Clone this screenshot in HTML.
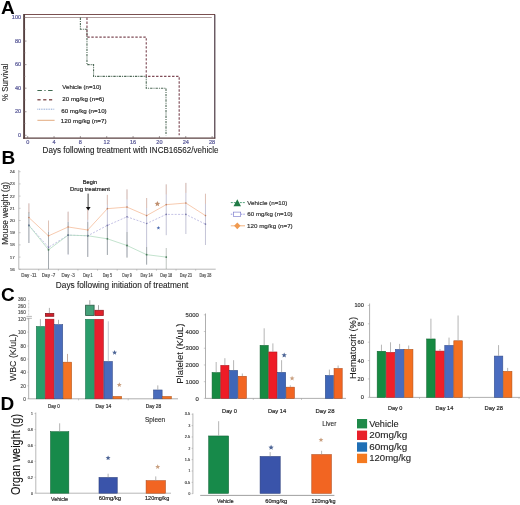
<!DOCTYPE html>
<html><head><meta charset="utf-8"><style>
html,body{margin:0;padding:0;background:#fff;}
body{width:520px;height:505px;overflow:hidden;}
svg{display:block;font-family:"Liberation Sans", sans-serif;filter:blur(0.3px);}
</style></head><body>
<svg width="520" height="505" viewBox="0 0 520 505">
<text x="1.00" y="13.60" font-size="19" fill="#000" text-anchor="start" font-weight="bold" >A</text>
<line x1="24.00" y1="14.50" x2="215.00" y2="14.50" stroke="#7a5050" stroke-width="1" />
<line x1="214.80" y1="14.50" x2="214.80" y2="138.50" stroke="#3a2530" stroke-width="1.1" />
<line x1="24.10" y1="14.00" x2="24.10" y2="138.80" stroke="#554040" stroke-width="1.9" />
<line x1="23.20" y1="138.20" x2="215.30" y2="138.20" stroke="#5a4040" stroke-width="1.3" />
<line x1="24.00" y1="135.30" x2="26.50" y2="135.30" stroke="#6a5a5a" stroke-width="0.6" />
<text x="21.10" y="136.90" font-size="4.6" fill="#5a5a98" text-anchor="end" stroke="#5a5a98" stroke-width="0.18" textLength="3.1" lengthAdjust="spacingAndGlyphs" >0</text>
<line x1="24.00" y1="111.74" x2="26.50" y2="111.74" stroke="#6a5a5a" stroke-width="0.6" />
<text x="21.10" y="113.34" font-size="4.6" fill="#5a5a98" text-anchor="end" stroke="#5a5a98" stroke-width="0.18" textLength="6.2" lengthAdjust="spacingAndGlyphs" >20</text>
<line x1="24.00" y1="88.18" x2="26.50" y2="88.18" stroke="#6a5a5a" stroke-width="0.6" />
<text x="21.10" y="89.78" font-size="4.6" fill="#5a5a98" text-anchor="end" stroke="#5a5a98" stroke-width="0.18" textLength="6.2" lengthAdjust="spacingAndGlyphs" >40</text>
<line x1="24.00" y1="64.62" x2="26.50" y2="64.62" stroke="#6a5a5a" stroke-width="0.6" />
<text x="21.10" y="66.22" font-size="4.6" fill="#5a5a98" text-anchor="end" stroke="#5a5a98" stroke-width="0.18" textLength="6.2" lengthAdjust="spacingAndGlyphs" >60</text>
<line x1="24.00" y1="41.06" x2="26.50" y2="41.06" stroke="#6a5a5a" stroke-width="0.6" />
<text x="21.10" y="42.66" font-size="4.6" fill="#5a5a98" text-anchor="end" stroke="#5a5a98" stroke-width="0.18" textLength="6.2" lengthAdjust="spacingAndGlyphs" >80</text>
<line x1="24.00" y1="17.50" x2="26.50" y2="17.50" stroke="#6a5a5a" stroke-width="0.6" />
<text x="21.10" y="19.10" font-size="4.6" fill="#5a5a98" text-anchor="end" stroke="#5a5a98" stroke-width="0.18" textLength="9.3" lengthAdjust="spacingAndGlyphs" >100</text>
<line x1="24.00" y1="123.52" x2="25.60" y2="123.52" stroke="#8a7a7a" stroke-width="0.5" />
<line x1="24.00" y1="99.96" x2="25.60" y2="99.96" stroke="#8a7a7a" stroke-width="0.5" />
<line x1="24.00" y1="76.40" x2="25.60" y2="76.40" stroke="#8a7a7a" stroke-width="0.5" />
<line x1="24.00" y1="52.84" x2="25.60" y2="52.84" stroke="#8a7a7a" stroke-width="0.5" />
<line x1="24.00" y1="29.28" x2="25.60" y2="29.28" stroke="#8a7a7a" stroke-width="0.5" />
<line x1="27.70" y1="138.00" x2="27.70" y2="136.00" stroke="#6a5a5a" stroke-width="0.6" />
<text x="27.70" y="144.20" font-size="4.6" fill="#5a5a98" text-anchor="middle" stroke="#5a5a98" stroke-width="0.18" textLength="3.1" lengthAdjust="spacingAndGlyphs" >0</text>
<line x1="54.04" y1="138.00" x2="54.04" y2="136.00" stroke="#6a5a5a" stroke-width="0.6" />
<text x="54.04" y="144.20" font-size="4.6" fill="#5a5a98" text-anchor="middle" stroke="#5a5a98" stroke-width="0.18" textLength="3.1" lengthAdjust="spacingAndGlyphs" >4</text>
<line x1="80.39" y1="138.00" x2="80.39" y2="136.00" stroke="#6a5a5a" stroke-width="0.6" />
<text x="80.39" y="144.20" font-size="4.6" fill="#5a5a98" text-anchor="middle" stroke="#5a5a98" stroke-width="0.18" textLength="3.1" lengthAdjust="spacingAndGlyphs" >8</text>
<line x1="106.73" y1="138.00" x2="106.73" y2="136.00" stroke="#6a5a5a" stroke-width="0.6" />
<text x="106.73" y="144.20" font-size="4.6" fill="#5a5a98" text-anchor="middle" stroke="#5a5a98" stroke-width="0.18" textLength="6.2" lengthAdjust="spacingAndGlyphs" >12</text>
<line x1="133.08" y1="138.00" x2="133.08" y2="136.00" stroke="#6a5a5a" stroke-width="0.6" />
<text x="133.08" y="144.20" font-size="4.6" fill="#5a5a98" text-anchor="middle" stroke="#5a5a98" stroke-width="0.18" textLength="6.2" lengthAdjust="spacingAndGlyphs" >16</text>
<line x1="159.42" y1="138.00" x2="159.42" y2="136.00" stroke="#6a5a5a" stroke-width="0.6" />
<text x="159.42" y="144.20" font-size="4.6" fill="#5a5a98" text-anchor="middle" stroke="#5a5a98" stroke-width="0.18" textLength="6.2" lengthAdjust="spacingAndGlyphs" >20</text>
<line x1="185.76" y1="138.00" x2="185.76" y2="136.00" stroke="#6a5a5a" stroke-width="0.6" />
<text x="185.76" y="144.20" font-size="4.6" fill="#5a5a98" text-anchor="middle" stroke="#5a5a98" stroke-width="0.18" textLength="6.2" lengthAdjust="spacingAndGlyphs" >24</text>
<line x1="212.11" y1="138.00" x2="212.11" y2="136.00" stroke="#6a5a5a" stroke-width="0.6" />
<text x="212.11" y="144.20" font-size="4.6" fill="#5a5a98" text-anchor="middle" stroke="#5a5a98" stroke-width="0.18" textLength="6.2" lengthAdjust="spacingAndGlyphs" >28</text>
<line x1="25.00" y1="17.50" x2="211.80" y2="17.50" stroke="#a89494" stroke-width="0.9" />
<polyline points="80.39,17.50 80.39,29.28 86.97,29.28 86.97,64.62 93.56,64.62 93.56,76.40 146.25,76.40 146.25,88.18 166.01,88.18 166.01,135.30" fill="none" stroke="#4f6a58" stroke-width="1.1" stroke-dasharray="2.4,1,1,1"/>
<polyline points="86.97,17.50 86.97,37.14 146.25,37.14 146.25,76.40 179.18,76.40 179.18,135.30" fill="none" stroke="#7e4a55" stroke-width="1.15" stroke-dasharray="2.4,1.6"/>
<line x1="37.40" y1="90.50" x2="54.60" y2="90.50" stroke="#3f6a50" stroke-width="1.0" stroke-dasharray="4.5,2.5,1.2,2.5" />
<text x="62.30" y="89.30" font-size="6.2" fill="#2a2a2a" text-anchor="start" stroke="#2a2a2a" stroke-width="0.18" textLength="39.0" lengthAdjust="spacingAndGlyphs" >Vehicle (n=10)</text>
<line x1="37.40" y1="99.70" x2="54.60" y2="99.70" stroke="#8a5a5a" stroke-width="1.4" stroke-dasharray="3.2,2.6" />
<text x="62.30" y="101.10" font-size="6.2" fill="#2a2a2a" text-anchor="start" stroke="#2a2a2a" stroke-width="0.18" textLength="42.0" lengthAdjust="spacingAndGlyphs" >20 mg/kg (n=6)</text>
<line x1="37.40" y1="109.20" x2="54.60" y2="109.20" stroke="#5a80c0" stroke-width="0.8" stroke-dasharray="0.9,0.8" />
<text x="61.20" y="112.90" font-size="6.2" fill="#2a2a2a" text-anchor="start" stroke="#2a2a2a" stroke-width="0.18" textLength="45.5" lengthAdjust="spacingAndGlyphs" >60 mg/kg (n=10)</text>
<line x1="37.40" y1="120.30" x2="54.60" y2="120.30" stroke="#e0a070" stroke-width="0.9" />
<text x="60.80" y="122.80" font-size="6.2" fill="#2a2a2a" text-anchor="start" stroke="#2a2a2a" stroke-width="0.18" textLength="45.8" lengthAdjust="spacingAndGlyphs" >120 mg/kg (n=7)</text>
<text x="42.60" y="153.00" font-size="8.4" fill="#222" text-anchor="start" stroke="#222" stroke-width="0.1" textLength="176.0" lengthAdjust="spacingAndGlyphs" >Days following treatment with INCB16562/vehicle</text>
<text x="7.60" y="82.30" font-size="8.2" fill="#222" text-anchor="middle" stroke="#222" stroke-width="0.1" textLength="37.4" lengthAdjust="spacingAndGlyphs" transform="rotate(-90 7.60 82.30)" >% Survival</text>
<text x="1.50" y="164.00" font-size="19" fill="#000" text-anchor="start" font-weight="bold" >B</text>
<line x1="18.80" y1="170.00" x2="18.80" y2="269.30" stroke="#999" stroke-width="0.7" />
<line x1="18.80" y1="269.20" x2="215.70" y2="269.20" stroke="#999" stroke-width="0.7" />
<line x1="18.80" y1="269.30" x2="20.60" y2="269.30" stroke="#999" stroke-width="0.5" />
<text x="14.80" y="270.80" font-size="4.4" fill="#555" text-anchor="end" stroke="#555" stroke-width="0.18" textLength="5.0" lengthAdjust="spacingAndGlyphs" >16</text>
<line x1="18.80" y1="257.10" x2="20.60" y2="257.10" stroke="#999" stroke-width="0.5" />
<text x="14.80" y="258.60" font-size="4.4" fill="#555" text-anchor="end" stroke="#555" stroke-width="0.18" textLength="5.0" lengthAdjust="spacingAndGlyphs" >17</text>
<line x1="18.80" y1="244.90" x2="20.60" y2="244.90" stroke="#999" stroke-width="0.5" />
<text x="14.80" y="246.40" font-size="4.4" fill="#555" text-anchor="end" stroke="#555" stroke-width="0.18" textLength="5.0" lengthAdjust="spacingAndGlyphs" >18</text>
<line x1="18.80" y1="232.70" x2="20.60" y2="232.70" stroke="#999" stroke-width="0.5" />
<text x="14.80" y="234.20" font-size="4.4" fill="#555" text-anchor="end" stroke="#555" stroke-width="0.18" textLength="5.0" lengthAdjust="spacingAndGlyphs" >19</text>
<line x1="18.80" y1="220.50" x2="20.60" y2="220.50" stroke="#999" stroke-width="0.5" />
<text x="14.80" y="222.00" font-size="4.4" fill="#555" text-anchor="end" stroke="#555" stroke-width="0.18" textLength="5.0" lengthAdjust="spacingAndGlyphs" >20</text>
<line x1="18.80" y1="208.30" x2="20.60" y2="208.30" stroke="#999" stroke-width="0.5" />
<text x="14.80" y="209.80" font-size="4.4" fill="#555" text-anchor="end" stroke="#555" stroke-width="0.18" textLength="5.0" lengthAdjust="spacingAndGlyphs" >21</text>
<line x1="18.80" y1="196.10" x2="20.60" y2="196.10" stroke="#999" stroke-width="0.5" />
<text x="14.80" y="197.60" font-size="4.4" fill="#555" text-anchor="end" stroke="#555" stroke-width="0.18" textLength="5.0" lengthAdjust="spacingAndGlyphs" >22</text>
<line x1="18.80" y1="183.90" x2="20.60" y2="183.90" stroke="#999" stroke-width="0.5" />
<text x="14.80" y="185.40" font-size="4.4" fill="#555" text-anchor="end" stroke="#555" stroke-width="0.18" textLength="5.0" lengthAdjust="spacingAndGlyphs" >23</text>
<line x1="18.80" y1="171.70" x2="20.60" y2="171.70" stroke="#999" stroke-width="0.5" />
<text x="14.80" y="173.20" font-size="4.4" fill="#555" text-anchor="end" stroke="#555" stroke-width="0.18" textLength="5.0" lengthAdjust="spacingAndGlyphs" >24</text>
<line x1="38.71" y1="269.20" x2="38.71" y2="270.80" stroke="#999" stroke-width="0.5" />
<text x="28.90" y="276.50" font-size="4.6" fill="#555" text-anchor="middle" stroke="#555" stroke-width="0.18" textLength="15.3" lengthAdjust="spacingAndGlyphs" >Day -11</text>
<line x1="58.33" y1="269.20" x2="58.33" y2="270.80" stroke="#999" stroke-width="0.5" />
<text x="48.52" y="276.50" font-size="4.6" fill="#555" text-anchor="middle" stroke="#555" stroke-width="0.18" textLength="13.3" lengthAdjust="spacingAndGlyphs" >Day -7</text>
<line x1="77.95" y1="269.20" x2="77.95" y2="270.80" stroke="#999" stroke-width="0.5" />
<text x="68.14" y="276.50" font-size="4.6" fill="#555" text-anchor="middle" stroke="#555" stroke-width="0.18" textLength="13.4" lengthAdjust="spacingAndGlyphs" >Day -3</text>
<line x1="97.57" y1="269.20" x2="97.57" y2="270.80" stroke="#999" stroke-width="0.5" />
<text x="87.76" y="276.50" font-size="4.6" fill="#555" text-anchor="middle" stroke="#555" stroke-width="0.18" textLength="9.7" lengthAdjust="spacingAndGlyphs" >Day 1</text>
<line x1="117.19" y1="269.20" x2="117.19" y2="270.80" stroke="#999" stroke-width="0.5" />
<text x="107.38" y="276.50" font-size="4.6" fill="#555" text-anchor="middle" stroke="#555" stroke-width="0.18" textLength="9.4" lengthAdjust="spacingAndGlyphs" >Day 5</text>
<line x1="136.81" y1="269.20" x2="136.81" y2="270.80" stroke="#999" stroke-width="0.5" />
<text x="127.00" y="276.50" font-size="4.6" fill="#555" text-anchor="middle" stroke="#555" stroke-width="0.18" textLength="9.4" lengthAdjust="spacingAndGlyphs" >Day 9</text>
<line x1="156.43" y1="269.20" x2="156.43" y2="270.80" stroke="#999" stroke-width="0.5" />
<text x="146.62" y="276.50" font-size="4.6" fill="#555" text-anchor="middle" stroke="#555" stroke-width="0.18" textLength="12.0" lengthAdjust="spacingAndGlyphs" >Day 14</text>
<line x1="176.05" y1="269.20" x2="176.05" y2="270.80" stroke="#999" stroke-width="0.5" />
<text x="166.24" y="276.50" font-size="4.6" fill="#555" text-anchor="middle" stroke="#555" stroke-width="0.18" textLength="12.0" lengthAdjust="spacingAndGlyphs" >Day 18</text>
<line x1="195.67" y1="269.20" x2="195.67" y2="270.80" stroke="#999" stroke-width="0.5" />
<text x="185.86" y="276.50" font-size="4.6" fill="#555" text-anchor="middle" stroke="#555" stroke-width="0.18" textLength="12.0" lengthAdjust="spacingAndGlyphs" >Day 23</text>
<text x="205.48" y="276.50" font-size="4.6" fill="#555" text-anchor="middle" stroke="#555" stroke-width="0.18" textLength="12.0" lengthAdjust="spacingAndGlyphs" >Day 28</text>
<line x1="28.90" y1="203.40" x2="28.90" y2="243.00" stroke="#9c9cbc" stroke-width="0.6" />
<line x1="48.52" y1="220.60" x2="48.52" y2="269.00" stroke="#9c9cbc" stroke-width="0.6" />
<line x1="68.14" y1="211.70" x2="68.14" y2="254.90" stroke="#9c9cbc" stroke-width="0.6" />
<line x1="87.76" y1="209.70" x2="87.76" y2="256.80" stroke="#9c9cbc" stroke-width="0.6" />
<line x1="107.38" y1="194.90" x2="107.38" y2="254.90" stroke="#9c9cbc" stroke-width="0.6" />
<line x1="127.00" y1="189.40" x2="127.00" y2="257.00" stroke="#9c9cbc" stroke-width="0.6" />
<line x1="146.62" y1="198.00" x2="146.62" y2="264.60" stroke="#9c9cbc" stroke-width="0.6" />
<line x1="166.24" y1="184.40" x2="166.24" y2="235.20" stroke="#9c9cbc" stroke-width="0.6" />
<line x1="185.86" y1="182.90" x2="185.86" y2="234.00" stroke="#9c9cbc" stroke-width="0.6" />
<line x1="205.48" y1="193.80" x2="205.48" y2="245.00" stroke="#9c9cbc" stroke-width="0.6" />
<line x1="28.90" y1="203.40" x2="28.90" y2="213.40" stroke="#f0c0a0" stroke-width="0.6" />
<line x1="48.52" y1="220.60" x2="48.52" y2="230.60" stroke="#f0c0a0" stroke-width="0.6" />
<line x1="68.14" y1="211.70" x2="68.14" y2="221.70" stroke="#f0c0a0" stroke-width="0.6" />
<line x1="87.76" y1="209.70" x2="87.76" y2="219.70" stroke="#f0c0a0" stroke-width="0.6" />
<line x1="107.38" y1="194.90" x2="107.38" y2="204.90" stroke="#f0c0a0" stroke-width="0.6" />
<line x1="127.00" y1="189.40" x2="127.00" y2="199.40" stroke="#f0c0a0" stroke-width="0.6" />
<line x1="146.62" y1="198.00" x2="146.62" y2="208.00" stroke="#f0c0a0" stroke-width="0.6" />
<line x1="166.24" y1="184.40" x2="166.24" y2="194.40" stroke="#f0c0a0" stroke-width="0.6" />
<line x1="185.86" y1="182.90" x2="185.86" y2="192.90" stroke="#f0c0a0" stroke-width="0.6" />
<line x1="205.48" y1="193.80" x2="205.48" y2="203.80" stroke="#f0c0a0" stroke-width="0.6" />
<line x1="28.90" y1="212.00" x2="28.90" y2="243.00" stroke="#8a948e" stroke-width="0.55" />
<line x1="48.52" y1="232.00" x2="48.52" y2="269.00" stroke="#8a948e" stroke-width="0.55" />
<line x1="68.14" y1="222.00" x2="68.14" y2="254.00" stroke="#8a948e" stroke-width="0.55" />
<line x1="87.76" y1="222.00" x2="87.76" y2="257.00" stroke="#8a948e" stroke-width="0.55" />
<line x1="107.38" y1="225.00" x2="107.38" y2="255.00" stroke="#8a948e" stroke-width="0.55" />
<line x1="127.00" y1="232.00" x2="127.00" y2="258.00" stroke="#8a948e" stroke-width="0.55" />
<line x1="146.62" y1="247.00" x2="146.62" y2="264.60" stroke="#8a948e" stroke-width="0.55" />
<line x1="166.24" y1="248.00" x2="166.24" y2="269.00" stroke="#8a948e" stroke-width="0.55" />
<polyline points="28.90,217.57 48.52,235.87 68.14,226.97 87.76,230.02 107.38,208.67 127.00,207.08 146.62,215.62 166.24,204.64 185.86,203.05 205.48,215.62" fill="none" stroke="#f6c4a6" stroke-width="0.9"/>
<polyline points="28.90,225.38 48.52,247.34 68.14,235.14 87.76,235.75 107.38,225.38 127.00,216.84 146.62,223.55 166.24,214.40 185.86,214.40 205.48,224.16" fill="none" stroke="#b0aedc" stroke-width="0.75" stroke-dasharray="2,1.4"/>
<polyline points="28.90,225.38 48.52,249.78 68.14,235.14 87.76,235.75 107.38,238.80 127.00,245.51 146.62,254.66 166.24,257.10" fill="none" stroke="#b4dcc2" stroke-width="0.8"/>
<circle cx="28.90" cy="225.38" r="0.9" fill="#4a7a5a"/>
<circle cx="48.52" cy="249.78" r="0.9" fill="#4a7a5a"/>
<circle cx="68.14" cy="235.14" r="0.9" fill="#4a7a5a"/>
<circle cx="87.76" cy="235.75" r="0.9" fill="#4a7a5a"/>
<circle cx="107.38" cy="238.80" r="0.9" fill="#4a7a5a"/>
<circle cx="127.00" cy="245.51" r="0.9" fill="#4a7a5a"/>
<circle cx="146.62" cy="254.66" r="0.9" fill="#4a7a5a"/>
<circle cx="166.24" cy="257.10" r="0.9" fill="#4a7a5a"/>
<circle cx="28.90" cy="225.38" r="0.8" fill="#7a7aaa"/>
<circle cx="48.52" cy="247.34" r="0.8" fill="#7a7aaa"/>
<circle cx="68.14" cy="235.14" r="0.8" fill="#7a7aaa"/>
<circle cx="87.76" cy="235.75" r="0.8" fill="#7a7aaa"/>
<circle cx="107.38" cy="225.38" r="0.8" fill="#7a7aaa"/>
<circle cx="127.00" cy="216.84" r="0.8" fill="#7a7aaa"/>
<circle cx="146.62" cy="223.55" r="0.8" fill="#7a7aaa"/>
<circle cx="166.24" cy="214.40" r="0.8" fill="#7a7aaa"/>
<circle cx="185.86" cy="214.40" r="0.8" fill="#7a7aaa"/>
<circle cx="205.48" cy="224.16" r="0.8" fill="#7a7aaa"/>
<circle cx="28.90" cy="217.57" r="0.8" fill="#c08060"/>
<circle cx="48.52" cy="235.87" r="0.8" fill="#c08060"/>
<circle cx="68.14" cy="226.97" r="0.8" fill="#c08060"/>
<circle cx="87.76" cy="230.02" r="0.8" fill="#c08060"/>
<circle cx="107.38" cy="208.67" r="0.8" fill="#c08060"/>
<circle cx="127.00" cy="207.08" r="0.8" fill="#c08060"/>
<circle cx="146.62" cy="215.62" r="0.8" fill="#c08060"/>
<circle cx="166.24" cy="204.64" r="0.8" fill="#c08060"/>
<circle cx="185.86" cy="203.05" r="0.8" fill="#c08060"/>
<circle cx="205.48" cy="215.62" r="0.8" fill="#c08060"/>
<polygon points="157.40,200.90 158.19,202.81 160.25,202.97 158.68,204.32 159.16,206.33 157.40,205.25 155.64,206.33 156.12,204.32 154.55,202.97 156.61,202.81" fill="#c09070"/>
<polygon points="158.40,226.10 158.90,227.31 160.21,227.41 159.21,228.26 159.52,229.54 158.40,228.85 157.28,229.54 157.59,228.26 156.59,227.41 157.90,227.31" fill="#4a6ab0"/>
<text x="90.00" y="184.10" font-size="5.6" fill="#222" text-anchor="middle" stroke="#222" stroke-width="0.18" textLength="14.4" lengthAdjust="spacingAndGlyphs" >Begin</text>
<text x="90.00" y="191.30" font-size="5.6" fill="#222" text-anchor="middle" stroke="#222" stroke-width="0.18" textLength="40.0" lengthAdjust="spacingAndGlyphs" >Drug treatment</text>
<line x1="88.10" y1="193.60" x2="88.10" y2="208.00" stroke="#111" stroke-width="0.8" />
<polygon points="85.9,207.0 90.6,207.0 88.2,210.6" fill="#111"/>
<text x="55.80" y="287.90" font-size="8.4" fill="#222" text-anchor="start" stroke="#222" stroke-width="0.1" textLength="132.5" lengthAdjust="spacingAndGlyphs" >Days following initiation of treatment</text>
<text x="7.90" y="213.40" font-size="8.4" fill="#222" text-anchor="middle" stroke="#222" stroke-width="0.1" textLength="62.6" lengthAdjust="spacingAndGlyphs" transform="rotate(-90 7.90 213.40)" >Mouse weight (g)</text>
<line x1="230.80" y1="202.60" x2="245.00" y2="202.60" stroke="#2a8a5a" stroke-width="0.8" stroke-dasharray="2,1" />
<polygon points="237.3,199.3 233.5,206.2 241.0,206.2" fill="#1f7a45"/>
<text x="247.30" y="204.80" font-size="6.2" fill="#333" text-anchor="start" stroke="#333" stroke-width="0.18" textLength="40.0" lengthAdjust="spacingAndGlyphs" >Vehicle (n=10)</text>
<line x1="230.80" y1="214.20" x2="245.00" y2="214.20" stroke="#6a6ad0" stroke-width="0.7" stroke-dasharray="1.5,1" />
<rect x="233.60" y="212.10" width="7.10" height="4.20" fill="#fff" stroke="#7070c8" stroke-width="0.6"/>
<text x="247.30" y="215.60" font-size="6.2" fill="#333" text-anchor="start" stroke="#333" stroke-width="0.18" textLength="45.4" lengthAdjust="spacingAndGlyphs" >60 mg/kg (n=10)</text>
<line x1="230.80" y1="225.80" x2="245.00" y2="225.80" stroke="#f0a060" stroke-width="0.8" />
<polygon points="237.3,222.4 240.5,225.8 237.3,229.2 234.1,225.8" fill="#f09a50"/>
<text x="247.00" y="228.40" font-size="6.2" fill="#333" text-anchor="start" stroke="#333" stroke-width="0.18" textLength="45.7" lengthAdjust="spacingAndGlyphs" >120 mg/kg (n=7)</text>
<text x="1.00" y="300.60" font-size="19" fill="#000" text-anchor="start" font-weight="bold" >C</text>
<line x1="28.70" y1="300.20" x2="28.70" y2="315.80" stroke="#aaa" stroke-width="0.7" stroke-dasharray="0.8,0.6" />
<line x1="28.70" y1="318.20" x2="28.70" y2="399.00" stroke="#9a9a9a" stroke-width="0.8" />
<line x1="28.50" y1="398.80" x2="178.00" y2="398.80" stroke="#9a9a9a" stroke-width="0.8" />
<line x1="26.50" y1="316.40" x2="31.90" y2="316.40" stroke="#888" stroke-width="0.6" />
<line x1="26.50" y1="318.30" x2="31.90" y2="318.30" stroke="#888" stroke-width="0.6" />
<text x="25.80" y="300.70" font-size="4.9" fill="#555" text-anchor="end" stroke="#555" stroke-width="0.18" textLength="7.8" lengthAdjust="spacingAndGlyphs" >360</text>
<text x="25.80" y="307.70" font-size="4.9" fill="#555" text-anchor="end" stroke="#555" stroke-width="0.18" textLength="7.8" lengthAdjust="spacingAndGlyphs" >260</text>
<text x="25.80" y="314.20" font-size="4.9" fill="#555" text-anchor="end" stroke="#555" stroke-width="0.18" textLength="7.8" lengthAdjust="spacingAndGlyphs" >160</text>
<line x1="27.30" y1="319.00" x2="28.70" y2="319.00" stroke="#9a9a9a" stroke-width="0.5" />
<text x="25.80" y="320.70" font-size="4.9" fill="#555" text-anchor="end" stroke="#555" stroke-width="0.18" textLength="7.8" lengthAdjust="spacingAndGlyphs" >120</text>
<line x1="27.30" y1="332.10" x2="28.70" y2="332.10" stroke="#9a9a9a" stroke-width="0.5" />
<text x="25.80" y="333.80" font-size="4.9" fill="#555" text-anchor="end" stroke="#555" stroke-width="0.18" textLength="7.8" lengthAdjust="spacingAndGlyphs" >100</text>
<line x1="27.30" y1="346.00" x2="28.70" y2="346.00" stroke="#9a9a9a" stroke-width="0.5" />
<text x="25.80" y="347.70" font-size="4.9" fill="#555" text-anchor="end" stroke="#555" stroke-width="0.18" textLength="5.2" lengthAdjust="spacingAndGlyphs" >80</text>
<line x1="27.30" y1="359.10" x2="28.70" y2="359.10" stroke="#9a9a9a" stroke-width="0.5" />
<text x="25.80" y="360.80" font-size="4.9" fill="#555" text-anchor="end" stroke="#555" stroke-width="0.18" textLength="5.2" lengthAdjust="spacingAndGlyphs" >60</text>
<line x1="27.30" y1="372.20" x2="28.70" y2="372.20" stroke="#9a9a9a" stroke-width="0.5" />
<text x="25.80" y="373.90" font-size="4.9" fill="#555" text-anchor="end" stroke="#555" stroke-width="0.18" textLength="5.2" lengthAdjust="spacingAndGlyphs" >40</text>
<line x1="27.30" y1="385.80" x2="28.70" y2="385.80" stroke="#9a9a9a" stroke-width="0.5" />
<text x="25.80" y="387.50" font-size="4.9" fill="#555" text-anchor="end" stroke="#555" stroke-width="0.18" textLength="5.2" lengthAdjust="spacingAndGlyphs" >20</text>
<line x1="27.30" y1="398.80" x2="28.70" y2="398.80" stroke="#9a9a9a" stroke-width="0.5" />
<text x="25.80" y="400.50" font-size="4.9" fill="#555" text-anchor="end" stroke="#555" stroke-width="0.18" textLength="2.6" lengthAdjust="spacingAndGlyphs" >0</text>
<line x1="78.60" y1="398.80" x2="78.60" y2="400.40" stroke="#9a9a9a" stroke-width="0.5" />
<line x1="128.20" y1="398.80" x2="128.20" y2="400.40" stroke="#9a9a9a" stroke-width="0.5" />
<text x="15.80" y="357.60" font-size="9.4" fill="#222" text-anchor="middle" stroke="#222" stroke-width="0.1" textLength="47.0" lengthAdjust="spacingAndGlyphs" transform="rotate(-90 15.80 357.60)" >WBC (K/uL)</text>
<rect x="36.27" y="326.47" width="8.45" height="72.33" fill="#2a9d6b" stroke="#1e714d" stroke-width="0.55"/>
<rect x="45.27" y="319.17" width="8.65" height="79.63" fill="#e8202e" stroke="#a71721" stroke-width="0.55"/>
<rect x="45.4" y="313.5" width="8.4" height="2.8" fill="#d0202c" stroke="#8a1a22" stroke-width="0.8"/>
<rect x="54.48" y="324.57" width="8.25" height="74.22" fill="#4a6cbc" stroke="#354d87" stroke-width="0.55"/>
<rect x="63.27" y="362.17" width="8.35" height="36.63" fill="#f47424" stroke="#af5319" stroke-width="0.55"/>
<line x1="40.40" y1="319.10" x2="40.40" y2="326.20" stroke="#9a9a9a" stroke-width="0.75" />
<line x1="49.40" y1="307.90" x2="49.40" y2="313.10" stroke="#9a9a9a" stroke-width="0.75" />
<line x1="58.50" y1="319.80" x2="58.50" y2="324.30" stroke="#9a9a9a" stroke-width="0.75" />
<line x1="67.50" y1="353.90" x2="67.50" y2="361.90" stroke="#b09080" stroke-width="0.75" />
<rect x="85.48" y="319.27" width="8.75" height="79.53" fill="#2a9d6b" stroke="#1e714d" stroke-width="0.55"/>
<rect x="85.6" y="305.2" width="8.5" height="10.3" fill="#44a078" stroke="#2a5a45" stroke-width="0.8"/>
<rect x="94.78" y="319.27" width="8.65" height="79.53" fill="#e8202e" stroke="#a71721" stroke-width="0.55"/>
<rect x="94.9" y="310.3" width="8.4" height="5.2" fill="#e0222c" stroke="#9a1a22" stroke-width="0.8"/>
<rect x="103.98" y="361.47" width="8.45" height="37.33" fill="#4a6cbc" stroke="#354d87" stroke-width="0.55"/>
<rect x="112.98" y="396.47" width="8.65" height="2.33" fill="#f47424" stroke="#af5319" stroke-width="0.55"/>
<line x1="89.80" y1="300.20" x2="89.80" y2="304.80" stroke="#888" stroke-width="0.75" />
<line x1="98.50" y1="305.20" x2="98.50" y2="309.90" stroke="#888" stroke-width="0.75" />
<line x1="108.30" y1="321.30" x2="108.30" y2="361.20" stroke="#b0b4c0" stroke-width="0.75" />
<rect x="153.47" y="389.97" width="8.65" height="8.83" fill="#4a6cbc" stroke="#354d87" stroke-width="0.55"/>
<rect x="162.68" y="396.47" width="8.65" height="2.33" fill="#f47424" stroke="#af5319" stroke-width="0.55"/>
<line x1="157.80" y1="385.40" x2="157.80" y2="389.70" stroke="#9a9a9a" stroke-width="0.75" />
<polygon points="114.60,350.00 115.29,351.65 117.07,351.80 115.71,352.96 116.13,354.70 114.60,353.77 113.07,354.70 113.49,352.96 112.13,351.80 113.91,351.65" fill="#4d6596"/>
<polygon points="119.30,382.30 119.99,383.95 121.77,384.10 120.41,385.26 120.83,387.00 119.30,386.07 117.77,387.00 118.19,385.26 116.83,384.10 118.61,383.95" fill="#c9a080"/>
<text x="53.90" y="407.50" font-size="4.6" fill="#333" text-anchor="middle" stroke="#333" stroke-width="0.18" textLength="12.0" lengthAdjust="spacingAndGlyphs" >Day 0</text>
<text x="103.40" y="407.50" font-size="4.6" fill="#333" text-anchor="middle" stroke="#333" stroke-width="0.18" textLength="15.8" lengthAdjust="spacingAndGlyphs" >Day 14</text>
<text x="153.50" y="407.50" font-size="4.6" fill="#333" text-anchor="middle" stroke="#333" stroke-width="0.18" textLength="15.5" lengthAdjust="spacingAndGlyphs" >Day 28</text>
<line x1="205.50" y1="313.50" x2="205.50" y2="398.50" stroke="#9a9a9a" stroke-width="0.8" />
<line x1="205.50" y1="398.40" x2="346.00" y2="398.40" stroke="#9a9a9a" stroke-width="0.8" />
<line x1="203.80" y1="398.40" x2="205.50" y2="398.40" stroke="#9a9a9a" stroke-width="0.5" />
<text x="198.80" y="400.50" font-size="6.0" fill="#333" text-anchor="end" stroke="#333" stroke-width="0.18" textLength="3.3" lengthAdjust="spacingAndGlyphs" >0</text>
<line x1="203.80" y1="381.68" x2="205.50" y2="381.68" stroke="#9a9a9a" stroke-width="0.5" />
<text x="198.80" y="383.78" font-size="6.0" fill="#333" text-anchor="end" stroke="#333" stroke-width="0.18" textLength="13.2" lengthAdjust="spacingAndGlyphs" >1000</text>
<line x1="203.80" y1="364.96" x2="205.50" y2="364.96" stroke="#9a9a9a" stroke-width="0.5" />
<text x="198.80" y="367.06" font-size="6.0" fill="#333" text-anchor="end" stroke="#333" stroke-width="0.18" textLength="13.2" lengthAdjust="spacingAndGlyphs" >2000</text>
<line x1="203.80" y1="348.24" x2="205.50" y2="348.24" stroke="#9a9a9a" stroke-width="0.5" />
<text x="198.80" y="350.34" font-size="6.0" fill="#333" text-anchor="end" stroke="#333" stroke-width="0.18" textLength="13.2" lengthAdjust="spacingAndGlyphs" >3000</text>
<line x1="203.80" y1="331.52" x2="205.50" y2="331.52" stroke="#9a9a9a" stroke-width="0.5" />
<text x="198.80" y="333.62" font-size="6.0" fill="#333" text-anchor="end" stroke="#333" stroke-width="0.18" textLength="13.2" lengthAdjust="spacingAndGlyphs" >4000</text>
<line x1="203.80" y1="314.80" x2="205.50" y2="314.80" stroke="#9a9a9a" stroke-width="0.5" />
<text x="198.80" y="316.90" font-size="6.0" fill="#333" text-anchor="end" stroke="#333" stroke-width="0.18" textLength="13.2" lengthAdjust="spacingAndGlyphs" >5000</text>
<line x1="253.30" y1="398.40" x2="253.30" y2="400.00" stroke="#9a9a9a" stroke-width="0.5" />
<line x1="301.50" y1="398.40" x2="301.50" y2="400.00" stroke="#9a9a9a" stroke-width="0.5" />
<text x="183.40" y="353.70" font-size="9.8" fill="#222" text-anchor="middle" stroke="#222" stroke-width="0.1" textLength="60.0" lengthAdjust="spacingAndGlyphs" transform="rotate(-90 183.40 353.70)" >Platelet (K/uL)</text>
<rect x="212.08" y="372.57" width="8.17" height="25.82" fill="#178a42" stroke="#10632f" stroke-width="0.55"/>
<rect x="220.80" y="365.38" width="8.17" height="33.02" fill="#ee1c26" stroke="#ab141b" stroke-width="0.55"/>
<rect x="229.52" y="370.38" width="8.17" height="28.02" fill="#3e66b8" stroke="#2c4984" stroke-width="0.55"/>
<rect x="238.24" y="376.27" width="8.17" height="22.12" fill="#f26522" stroke="#ae4818" stroke-width="0.55"/>
<line x1="216.16" y1="362.00" x2="216.16" y2="372.30" stroke="#9c9c9c" stroke-width="0.75" />
<line x1="224.88" y1="358.20" x2="224.88" y2="365.10" stroke="#9c9c9c" stroke-width="0.75" />
<line x1="233.60" y1="360.20" x2="233.60" y2="370.10" stroke="#9c9c9c" stroke-width="0.75" />
<line x1="242.32" y1="373.50" x2="242.32" y2="376.00" stroke="#9c9c9c" stroke-width="0.75" />
<rect x="260.07" y="345.38" width="8.17" height="53.02" fill="#178a42" stroke="#10632f" stroke-width="0.55"/>
<rect x="268.80" y="351.97" width="8.17" height="46.42" fill="#ee1c26" stroke="#ab141b" stroke-width="0.55"/>
<rect x="277.51" y="372.38" width="8.17" height="26.02" fill="#3e66b8" stroke="#2c4984" stroke-width="0.55"/>
<rect x="286.24" y="387.17" width="8.17" height="11.22" fill="#f26522" stroke="#ae4818" stroke-width="0.55"/>
<line x1="264.16" y1="328.30" x2="264.16" y2="345.10" stroke="#9c9c9c" stroke-width="0.75" />
<line x1="272.88" y1="343.40" x2="272.88" y2="351.70" stroke="#9c9c9c" stroke-width="0.75" />
<line x1="281.60" y1="360.20" x2="281.60" y2="372.10" stroke="#9c9c9c" stroke-width="0.75" />
<line x1="290.32" y1="385.30" x2="290.32" y2="386.90" stroke="#9c9c9c" stroke-width="0.75" />
<rect x="325.31" y="375.47" width="8.17" height="22.92" fill="#3e66b8" stroke="#2c4984" stroke-width="0.55"/>
<rect x="334.04" y="368.47" width="8.17" height="29.92" fill="#f26522" stroke="#ae4818" stroke-width="0.55"/>
<line x1="329.40" y1="369.60" x2="329.40" y2="375.20" stroke="#9c9c9c" stroke-width="0.75" />
<line x1="338.12" y1="365.50" x2="338.12" y2="368.20" stroke="#9c9c9c" stroke-width="0.75" />
<polygon points="284.20,352.40 284.94,354.18 286.86,354.33 285.40,355.59 285.85,357.47 284.20,356.46 282.55,357.47 283.00,355.59 281.54,354.33 283.46,354.18" fill="#4d6596"/>
<polygon points="292.10,375.80 292.79,377.45 294.57,377.60 293.21,378.76 293.63,380.50 292.10,379.57 290.57,380.50 290.99,378.76 289.63,377.60 291.41,377.45" fill="#c9a080"/>
<text x="229.50" y="413.00" font-size="6.2" fill="#222" text-anchor="middle" stroke="#222" stroke-width="0.18" textLength="15.0" lengthAdjust="spacingAndGlyphs" >Day 0</text>
<text x="277.10" y="413.00" font-size="6.2" fill="#222" text-anchor="middle" stroke="#222" stroke-width="0.18" textLength="18.3" lengthAdjust="spacingAndGlyphs" >Day 14</text>
<text x="325.00" y="413.00" font-size="6.2" fill="#222" text-anchor="middle" stroke="#222" stroke-width="0.18" textLength="19.0" lengthAdjust="spacingAndGlyphs" >Day 28</text>
<line x1="369.60" y1="303.50" x2="369.60" y2="397.50" stroke="#9a9a9a" stroke-width="0.8" />
<line x1="369.60" y1="397.40" x2="520.00" y2="397.40" stroke="#9a9a9a" stroke-width="0.8" />
<line x1="367.80" y1="397.30" x2="369.60" y2="397.30" stroke="#9a9a9a" stroke-width="0.5" />
<text x="363.80" y="399.30" font-size="5.6" fill="#333" text-anchor="end" stroke="#333" stroke-width="0.18" >0</text>
<line x1="367.80" y1="378.93" x2="369.60" y2="378.93" stroke="#9a9a9a" stroke-width="0.5" />
<text x="363.80" y="380.93" font-size="5.6" fill="#333" text-anchor="end" stroke="#333" stroke-width="0.18" >20</text>
<line x1="367.80" y1="360.56" x2="369.60" y2="360.56" stroke="#9a9a9a" stroke-width="0.5" />
<text x="363.80" y="362.56" font-size="5.6" fill="#333" text-anchor="end" stroke="#333" stroke-width="0.18" >40</text>
<line x1="367.80" y1="342.19" x2="369.60" y2="342.19" stroke="#9a9a9a" stroke-width="0.5" />
<text x="363.80" y="344.19" font-size="5.6" fill="#333" text-anchor="end" stroke="#333" stroke-width="0.18" >60</text>
<line x1="367.80" y1="323.82" x2="369.60" y2="323.82" stroke="#9a9a9a" stroke-width="0.5" />
<text x="363.80" y="325.82" font-size="5.6" fill="#333" text-anchor="end" stroke="#333" stroke-width="0.18" >80</text>
<line x1="367.80" y1="305.45" x2="369.60" y2="305.45" stroke="#9a9a9a" stroke-width="0.5" />
<text x="363.80" y="307.45" font-size="5.6" fill="#333" text-anchor="end" stroke="#333" stroke-width="0.18" >100</text>
<line x1="419.50" y1="397.40" x2="419.50" y2="399.00" stroke="#9a9a9a" stroke-width="0.5" />
<line x1="469.20" y1="397.40" x2="469.20" y2="399.00" stroke="#9a9a9a" stroke-width="0.5" />
<line x1="519.00" y1="397.40" x2="519.00" y2="399.00" stroke="#9a9a9a" stroke-width="0.5" />
<text x="355.80" y="348.00" font-size="8.6" fill="#222" text-anchor="middle" stroke="#222" stroke-width="0.1" textLength="62.0" lengthAdjust="spacingAndGlyphs" transform="rotate(-90 355.80 348.00)" >Hematocrit (%)</text>
<rect x="377.17" y="351.27" width="8.53" height="46.12" fill="#168a42" stroke="#0f632f" stroke-width="0.55"/>
<rect x="386.25" y="352.38" width="8.53" height="45.02" fill="#f0202a" stroke="#ac171e" stroke-width="0.55"/>
<rect x="395.33" y="349.38" width="8.53" height="48.02" fill="#4a6cc0" stroke="#354d8a" stroke-width="0.55"/>
<rect x="404.41" y="349.38" width="8.53" height="48.02" fill="#f47020" stroke="#af5017" stroke-width="0.55"/>
<line x1="381.44" y1="344.70" x2="381.44" y2="351.00" stroke="#9c9c9c" stroke-width="0.75" />
<line x1="390.52" y1="342.30" x2="390.52" y2="352.10" stroke="#9c9c9c" stroke-width="0.75" />
<line x1="399.60" y1="343.90" x2="399.60" y2="349.10" stroke="#9c9c9c" stroke-width="0.75" />
<line x1="408.68" y1="345.50" x2="408.68" y2="349.10" stroke="#9c9c9c" stroke-width="0.75" />
<rect x="426.67" y="338.97" width="8.50" height="58.42" fill="#168a42" stroke="#0f632f" stroke-width="0.55"/>
<rect x="435.72" y="351.07" width="8.50" height="46.32" fill="#f0202a" stroke="#ac171e" stroke-width="0.55"/>
<rect x="444.77" y="345.38" width="8.50" height="52.02" fill="#4a6cc0" stroke="#354d8a" stroke-width="0.55"/>
<rect x="453.82" y="340.77" width="8.50" height="56.62" fill="#f47020" stroke="#af5017" stroke-width="0.55"/>
<line x1="430.92" y1="318.70" x2="430.92" y2="338.70" stroke="#9c9c9c" stroke-width="0.75" />
<line x1="439.97" y1="349.00" x2="439.97" y2="350.80" stroke="#9c9c9c" stroke-width="0.75" />
<line x1="449.02" y1="337.60" x2="449.02" y2="345.10" stroke="#9c9c9c" stroke-width="0.75" />
<line x1="458.07" y1="315.50" x2="458.07" y2="340.50" stroke="#9c9c9c" stroke-width="0.75" />
<rect x="494.27" y="356.07" width="8.55" height="41.32" fill="#4a6cc0" stroke="#354d8a" stroke-width="0.55"/>
<rect x="503.38" y="371.38" width="8.55" height="26.02" fill="#f47020" stroke="#af5017" stroke-width="0.55"/>
<line x1="498.55" y1="345.10" x2="498.55" y2="355.80" stroke="#9c9c9c" stroke-width="0.75" />
<line x1="507.65" y1="367.90" x2="507.65" y2="371.10" stroke="#9c9c9c" stroke-width="0.75" />
<text x="395.20" y="409.80" font-size="6.0" fill="#222" text-anchor="middle" stroke="#222" stroke-width="0.18" textLength="14.5" lengthAdjust="spacingAndGlyphs" >Day 0</text>
<text x="444.40" y="409.80" font-size="6.0" fill="#222" text-anchor="middle" stroke="#222" stroke-width="0.18" textLength="17.8" lengthAdjust="spacingAndGlyphs" >Day 14</text>
<text x="493.80" y="409.80" font-size="6.0" fill="#222" text-anchor="middle" stroke="#222" stroke-width="0.18" textLength="18.5" lengthAdjust="spacingAndGlyphs" >Day 28</text>
<text x="0.60" y="409.80" font-size="19" fill="#000" text-anchor="start" font-weight="bold" >D</text>
<text x="19.80" y="454.50" font-size="13.2" fill="#111" text-anchor="middle" stroke="#111" stroke-width="0.1" textLength="81.0" lengthAdjust="spacingAndGlyphs" transform="rotate(-90 19.80 454.50)" >Organ weight (g)</text>
<line x1="35.80" y1="412.50" x2="35.80" y2="493.40" stroke="#9a9a9a" stroke-width="0.7" />
<line x1="35.80" y1="493.20" x2="171.00" y2="493.20" stroke="#9a9a9a" stroke-width="0.7" />
<line x1="34.50" y1="493.20" x2="35.80" y2="493.20" stroke="#9a9a9a" stroke-width="0.5" />
<text x="32.90" y="494.60" font-size="4.2" fill="#444" text-anchor="end" stroke="#444" stroke-width="0.18" textLength="1.9" lengthAdjust="spacingAndGlyphs" >0</text>
<line x1="34.50" y1="477.26" x2="35.80" y2="477.26" stroke="#9a9a9a" stroke-width="0.5" />
<text x="32.90" y="478.66" font-size="4.2" fill="#444" text-anchor="end" stroke="#444" stroke-width="0.18" textLength="5.2" lengthAdjust="spacingAndGlyphs" >0.2</text>
<line x1="34.50" y1="461.32" x2="35.80" y2="461.32" stroke="#9a9a9a" stroke-width="0.5" />
<text x="32.90" y="462.72" font-size="4.2" fill="#444" text-anchor="end" stroke="#444" stroke-width="0.18" textLength="5.2" lengthAdjust="spacingAndGlyphs" >0.4</text>
<line x1="34.50" y1="445.38" x2="35.80" y2="445.38" stroke="#9a9a9a" stroke-width="0.5" />
<text x="32.90" y="446.78" font-size="4.2" fill="#444" text-anchor="end" stroke="#444" stroke-width="0.18" textLength="5.2" lengthAdjust="spacingAndGlyphs" >0.6</text>
<line x1="34.50" y1="429.44" x2="35.80" y2="429.44" stroke="#9a9a9a" stroke-width="0.5" />
<text x="32.90" y="430.84" font-size="4.2" fill="#444" text-anchor="end" stroke="#444" stroke-width="0.18" textLength="5.2" lengthAdjust="spacingAndGlyphs" >0.8</text>
<line x1="34.50" y1="413.50" x2="35.80" y2="413.50" stroke="#9a9a9a" stroke-width="0.5" />
<text x="32.90" y="414.90" font-size="4.2" fill="#444" text-anchor="end" stroke="#444" stroke-width="0.18" textLength="1.9" lengthAdjust="spacingAndGlyphs" >1</text>
<rect x="50.48" y="431.67" width="18.35" height="61.53" fill="#178a4a" stroke="#106335" stroke-width="0.55"/>
<line x1="59.65" y1="423.30" x2="59.65" y2="431.40" stroke="#9c9c9c" stroke-width="0.75" />
<rect x="98.98" y="477.47" width="18.25" height="15.72" fill="#3a54aa" stroke="#293c7a" stroke-width="0.55"/>
<line x1="108.10" y1="473.70" x2="108.10" y2="477.20" stroke="#9c9c9c" stroke-width="0.75" />
<rect x="146.08" y="480.67" width="19.35" height="12.53" fill="#f26522" stroke="#ae4818" stroke-width="0.55"/>
<line x1="155.75" y1="476.40" x2="155.75" y2="480.40" stroke="#9c9c9c" stroke-width="0.75" />
<polygon points="108.10,455.40 108.79,457.05 110.57,457.20 109.21,458.36 109.63,460.10 108.10,459.17 106.57,460.10 106.99,458.36 105.63,457.20 107.41,457.05" fill="#4d6596"/>
<polygon points="157.70,464.30 158.39,465.95 160.17,466.10 158.81,467.26 159.23,469.00 157.70,468.07 156.17,469.00 156.59,467.26 155.23,466.10 157.01,465.95" fill="#c9a080"/>
<text x="145.00" y="422.20" font-size="7.4" fill="#222" text-anchor="start" stroke="#222" stroke-width="0.1" textLength="20.2" lengthAdjust="spacingAndGlyphs" >Spleen</text>
<text x="59.50" y="501.10" font-size="5.8" fill="#222" text-anchor="middle" stroke="#222" stroke-width="0.18" textLength="17.0" lengthAdjust="spacingAndGlyphs" >Vehicle</text>
<text x="109.90" y="499.60" font-size="5.8" fill="#222" text-anchor="middle" stroke="#222" stroke-width="0.18" textLength="22.4" lengthAdjust="spacingAndGlyphs" >60mg/kg</text>
<text x="157.10" y="500.20" font-size="5.8" fill="#222" text-anchor="middle" stroke="#222" stroke-width="0.18" textLength="24.2" lengthAdjust="spacingAndGlyphs" >120mg/kg</text>
<line x1="192.90" y1="413.40" x2="192.90" y2="493.90" stroke="#9a9a9a" stroke-width="0.7" />
<line x1="200.20" y1="495.40" x2="334.40" y2="495.40" stroke="#888" stroke-width="0.8" />
<line x1="191.60" y1="493.70" x2="192.90" y2="493.70" stroke="#9a9a9a" stroke-width="0.5" />
<text x="190.20" y="494.90" font-size="3.6" fill="#444" text-anchor="end" stroke="#444" stroke-width="0.18" textLength="1.8" lengthAdjust="spacingAndGlyphs" >0</text>
<line x1="191.60" y1="482.35" x2="192.90" y2="482.35" stroke="#9a9a9a" stroke-width="0.5" />
<text x="190.20" y="483.55" font-size="3.6" fill="#444" text-anchor="end" stroke="#444" stroke-width="0.18" textLength="5.4" lengthAdjust="spacingAndGlyphs" >0.5</text>
<line x1="191.60" y1="471.01" x2="192.90" y2="471.01" stroke="#9a9a9a" stroke-width="0.5" />
<text x="190.20" y="472.21" font-size="3.6" fill="#444" text-anchor="end" stroke="#444" stroke-width="0.18" textLength="1.8" lengthAdjust="spacingAndGlyphs" >1</text>
<line x1="191.60" y1="459.66" x2="192.90" y2="459.66" stroke="#9a9a9a" stroke-width="0.5" />
<text x="190.20" y="460.86" font-size="3.6" fill="#444" text-anchor="end" stroke="#444" stroke-width="0.18" textLength="5.4" lengthAdjust="spacingAndGlyphs" >1.5</text>
<line x1="191.60" y1="448.32" x2="192.90" y2="448.32" stroke="#9a9a9a" stroke-width="0.5" />
<text x="190.20" y="449.52" font-size="3.6" fill="#444" text-anchor="end" stroke="#444" stroke-width="0.18" textLength="1.8" lengthAdjust="spacingAndGlyphs" >2</text>
<line x1="191.60" y1="436.97" x2="192.90" y2="436.97" stroke="#9a9a9a" stroke-width="0.5" />
<text x="190.20" y="438.17" font-size="3.6" fill="#444" text-anchor="end" stroke="#444" stroke-width="0.18" textLength="5.4" lengthAdjust="spacingAndGlyphs" >2.5</text>
<line x1="191.60" y1="425.63" x2="192.90" y2="425.63" stroke="#9a9a9a" stroke-width="0.5" />
<text x="190.20" y="426.83" font-size="3.6" fill="#444" text-anchor="end" stroke="#444" stroke-width="0.18" textLength="1.8" lengthAdjust="spacingAndGlyphs" >3</text>
<line x1="191.60" y1="414.28" x2="192.90" y2="414.28" stroke="#9a9a9a" stroke-width="0.5" />
<text x="190.20" y="415.48" font-size="3.6" fill="#444" text-anchor="end" stroke="#444" stroke-width="0.18" textLength="5.4" lengthAdjust="spacingAndGlyphs" >3.5</text>
<rect x="208.68" y="435.97" width="19.95" height="57.42" fill="#178a4a" stroke="#106335" stroke-width="0.55"/>
<line x1="218.65" y1="421.20" x2="218.65" y2="435.70" stroke="#9c9c9c" stroke-width="0.75" />
<rect x="260.07" y="456.47" width="20.15" height="36.92" fill="#3a54aa" stroke="#293c7a" stroke-width="0.55"/>
<line x1="270.15" y1="452.10" x2="270.15" y2="456.20" stroke="#9c9c9c" stroke-width="0.75" />
<rect x="311.77" y="454.57" width="19.65" height="38.82" fill="#f26522" stroke="#ae4818" stroke-width="0.55"/>
<line x1="321.60" y1="450.80" x2="321.60" y2="454.30" stroke="#9c9c9c" stroke-width="0.75" />
<polygon points="271.10,444.70 271.84,446.48 273.76,446.63 272.30,447.89 272.75,449.77 271.10,448.76 269.45,449.77 269.90,447.89 268.44,446.63 270.36,446.48" fill="#4d6596"/>
<polygon points="321.00,437.50 321.66,439.09 323.38,439.23 322.07,440.35 322.47,442.02 321.00,441.12 319.53,442.02 319.93,440.35 318.62,439.23 320.34,439.09" fill="#c9a080"/>
<text x="322.30" y="426.30" font-size="7.4" fill="#222" text-anchor="start" stroke="#222" stroke-width="0.1" textLength="14.0" lengthAdjust="spacingAndGlyphs" >Liver</text>
<text x="225.30" y="502.70" font-size="5.8" fill="#222" text-anchor="middle" stroke="#222" stroke-width="0.18" textLength="16.5" lengthAdjust="spacingAndGlyphs" >Vehicle</text>
<text x="276.20" y="502.70" font-size="5.8" fill="#222" text-anchor="middle" stroke="#222" stroke-width="0.18" textLength="22.0" lengthAdjust="spacingAndGlyphs" >60mg/kg</text>
<text x="323.50" y="502.70" font-size="5.8" fill="#222" text-anchor="middle" stroke="#222" stroke-width="0.18" textLength="24.2" lengthAdjust="spacingAndGlyphs" >120mg/kg</text>
<rect x="357.00" y="419.00" width="10.10" height="9.40" fill="#1f8a4a"/>
<text x="369.20" y="426.80" font-size="8.9" fill="#222" text-anchor="start" stroke="#222" stroke-width="0.1" textLength="29.5" lengthAdjust="spacingAndGlyphs" >Vehicle</text>
<rect x="357.00" y="430.60" width="10.10" height="9.40" fill="#e8202a"/>
<text x="369.20" y="438.20" font-size="8.9" fill="#222" text-anchor="start" stroke="#222" stroke-width="0.1" textLength="38.0" lengthAdjust="spacingAndGlyphs" >20mg/kg</text>
<rect x="357.00" y="442.30" width="10.10" height="9.40" fill="#1f6fb5"/>
<text x="369.20" y="450.00" font-size="8.9" fill="#222" text-anchor="start" stroke="#222" stroke-width="0.1" textLength="38.0" lengthAdjust="spacingAndGlyphs" >60mg/kg</text>
<rect x="357.00" y="453.70" width="10.10" height="9.40" fill="#f47a20"/>
<text x="369.20" y="461.10" font-size="8.9" fill="#222" text-anchor="start" stroke="#222" stroke-width="0.1" textLength="42.0" lengthAdjust="spacingAndGlyphs" >120mg/kg</text>
</svg>
</body></html>
